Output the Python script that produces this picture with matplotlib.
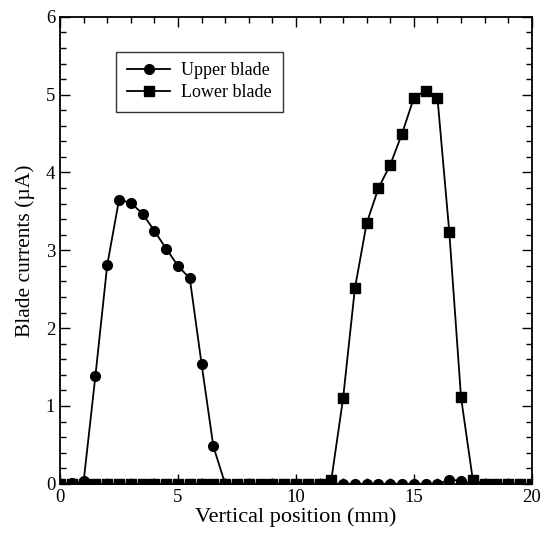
import numpy as np
import matplotlib
matplotlib.use("Agg")
import matplotlib.pyplot as plt
from matplotlib.ticker import MultipleLocator

# Vertical position (mm), 0.5 mm steps
position = np.arange(0, 20.5, 0.5)

# Upper blade current (uA)
upper_peak = [0.0, 0.01, 0.03, 1.39, 2.81, 3.65, 3.61, 3.47, 3.25, 3.02,
              2.80, 2.64, 1.54, 0.48]
upper_tail = [0.0] * 19 + [0.05, 0.04] + [0.0] * 6
upper_blade = upper_peak + upper_tail

# Lower blade current (uA)
lower_blade = ([0.0] * 23 +
               [0.05, 1.10, 2.51, 3.35, 3.80, 4.10, 4.50, 4.96, 5.05, 4.96,
                3.24, 1.11, 0.05] +
               [0.0] * 5)

plt.rcParams['font.family'] = ['Liberation Serif', 'DejaVu Serif']

fig = plt.figure(figsize=(5.41, 5.43), dpi=100)
ax = fig.add_axes([0.111, 0.109, 0.872, 0.860])

ax.plot(position, upper_blade, color='black', marker='o', markersize=7,
        linewidth=1.3, label='Upper blade')
ax.plot(position, lower_blade, color='black', marker='s', markersize=6.5,
        linewidth=1.3, label='Lower blade')

ax.set_xlim(0, 20)
ax.set_ylim(0, 6)
ax.xaxis.set_major_locator(MultipleLocator(5))
ax.xaxis.set_minor_locator(MultipleLocator(1))
ax.yaxis.set_major_locator(MultipleLocator(1))
ax.yaxis.set_minor_locator(MultipleLocator(0.2))
ax.tick_params(which='both', direction='in', top=True, right=True,
               labelsize=13.5, width=1)
ax.tick_params(which='major', length=7)
ax.tick_params(which='minor', length=4)
for s in ax.spines.values():
    s.set_linewidth(1.3)

ax.set_xlabel('Vertical position (mm)', fontsize=16, labelpad=1)
ax.set_ylabel('Blade currents (µA)', fontsize=15.5, labelpad=8)

leg = ax.legend(loc='upper left', bbox_to_anchor=(0.1, 0.945), fontsize=13,
                frameon=True, fancybox=False, edgecolor='black',
                borderpad=0.6, handlelength=2.4, labelspacing=0.25,
                handletextpad=0.6)
leg.get_frame().set_linewidth(1.0)

plt.savefig('out.png', dpi=100)
